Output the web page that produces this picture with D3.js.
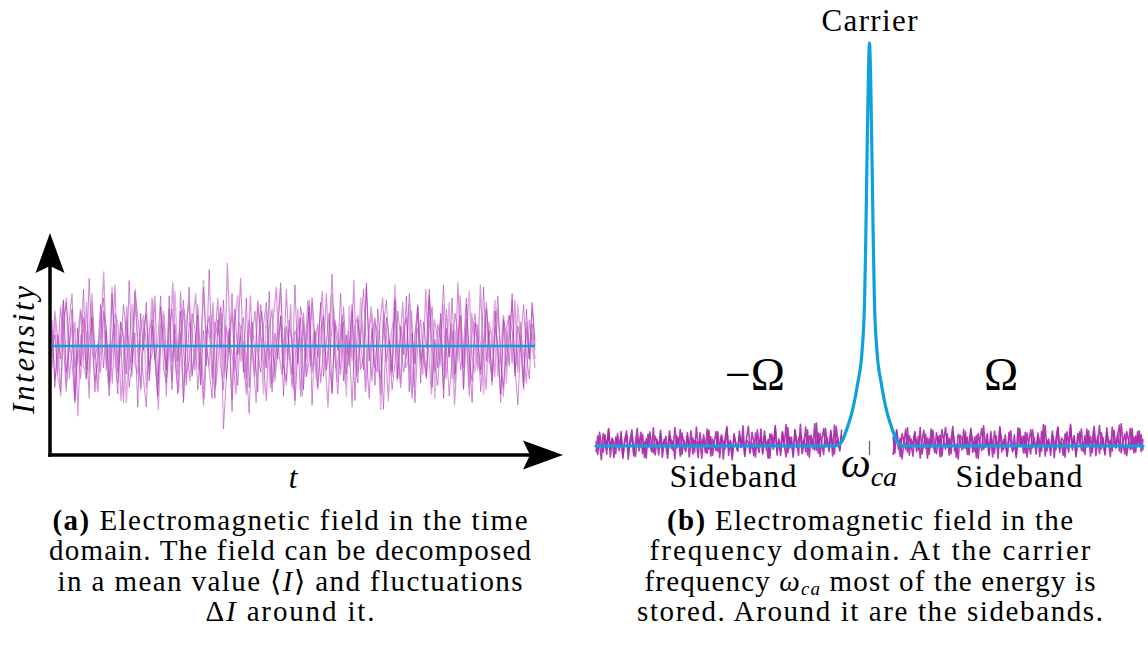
<!DOCTYPE html>
<html>
<head>
<meta charset="utf-8">
<script src="https://cdn.jsdelivr.net/npm/d3@7"></script>
<style>
  body { margin: 0; background: #fff; }
  svg { display: block; }
</style>
</head>
<body>
<svg id="fig" width="1148" height="646" font-family="'Liberation Serif', 'DejaVu Serif', 'Times New Roman', serif"></svg>
<script>
// ---- (a) time domain: intensity samples of overlaid noisy traces ----
const meanIntensity = 50;
const intensityA = [62,31,55,44,71,38,49,67,25,58,41,76,35,52,63,29,47,69,40,57,33,74,46,28,61,53,37,80,42,56,22,65,48,70,34,59,45,27,68,51,39,73,30,60,43,66,24,54,77,36,50,64,32,57,41,85,44,26,62,49,71,35,58,20,67,46,55,38,72,31,61,47,29,69,53,40,75,33,56,44,64,27,59,50,37,78,42,63,30,54,68,23,57,45,70,36,52,65,28,60,48,74,34,55,41,66,25,62,51,39,79,43,58,32,67,47,21,63,54,38,71,35,59,46,73,29,56,42,68,33,61,49,76,31,53,40,65,26,58,45,72,37,54,64,30,69,47,24,60,52,39,77,43,57,34,66,48,28,62,55,41,74,36,59,50,31,67,44,70,53];
const intensityB = [48,55,36,29,61,70,52,43,24,46,66,58,39,81,50,34,41,63,72,45,27,53,60,38,47,69,56,31,42,75,64,49,35,22,57,62,44,51,73,40,33,59,67,46,28,54,71,37,43,65,58,30,48,77,52,39,26,61,55,68,12,35,50,74,45,32,57,63,40,19,53,66,47,38,60,70,49,29,44,56,79,41,34,62,51,25,46,68,58,36,43,72,54,31,48,64,39,57,83,45,28,52,61,37,50,69,44,33,58,76,47,26,55,63,40,35,60,71,49,30,42,66,53,38,46,74,57,24,51,62,44,36,59,68,41,32,54,78,48,27,45,65,56,39,50,72,43,34,61,58,29,47,67,52,37,55,73,42,31,49,64,57,40,23,53,69,46,35,60,48];
const intensityC = [40,66,53,27,58,72,35,49,61,18,55,44,70,38,63,47,30,57,84,42,51,33,65,59,25,46,68,39,54,76,43,31,60,50,37,71,45,21,58,64,36,52,79,41,29,56,67,48,34,62,74,39,45,26,59,53,70,32,47,65,38,88,51,43,28,61,57,35,49,73,42,24,55,66,40,52,31,63,77,46,37,58,44,69,30,54,62,27,48,71,41,56,35,60,75,43,22,53,67,39,50,64,33,57,45,80,36,49,61,29,54,68,42,38,59,72,47,25,56,63,34,51,70,40,44,66,31,58,53,37,76,48,28,62,55,41,69,35,50,60,23,46,73,43,57,32,65,52,39,78,45,30,61,54,36,67,49,27,58,64,42,71,38,55,47,33,62,52,40];
const intensityD = [57,34,45,68,52,29,61,74,40,48,35,63,56,26,70,44,51,38,66,59,31,47,78,42,55,24,62,49,36,71,53,30,58,65,41,46,73,33,50,60,27,67,43,54,37,75,48,32,61,57,39,69,45,23,56,64,35,52,72,41,30,59,47,66,38,53,81,44,28,62,50,36,70,55,42,25,58,67,34,49,63,40,76,46,31,57,53,27,65,44,71,38,51,60,33,48,74,42,29,62,55,37,68,46,52,22,59,64,39,45,77,50,34,61,56,28,66,43,53,36,72,47,31,58,63,41,26,55,69,44,50,35,73,48,38,60,54,30,67,45,57,33,79,49,40,62,27,56,65,43,37,52,70,46,32,59,51,24,64,41,55,71,38,47,61,34,58,44,68,50];
const intensityE = [45,63,38,54,71,32,49,60,27,56,67,41,35,58,74,46,29,52,65,39,43,77,50,33,61,55,24,48,69,42,37,57,64,31,53,72,44,28,59,66,40,51,34,75,47,56,26,62,70,38,45,58,33,80,49,41,64,30,54,68,36,46,57,25,63,73,43,52,35,60,48,39,71,55,28,66,44,50,37,62,76,41,32,58,53,23,67,47,61,36,55,70,42,30,57,64,39,49,74,45,34,60,52,27,68,43,56,38,72,48,31,59,65,40,54,21,63,57,37,46,78,51,33,61,44,69,29,55,66,42,48,36,73,58,26,52,62,39,47,70,35,57,43,64,31,55,75,45,38,60,50,28,67,42,54,71,36,49,63,33,58,46,40,69,53,30,61,47,56,44];

// ---- (b) frequency domain: carrier line shape and sideband noise ----
const carrierFreq  = [-50, -6.6, -5.8, -5.1, -4.2, -3.1, -2.15, -1.35, -0.9, -0.7, -0.45, -0.2, 0, 0.2, 0.45, 0.7, 0.9, 1.35, 2.15, 3.1, 4.2, 5.1, 5.8, 6.6, 50];
const carrierPower = [0, 0, 0.15, 1.0, 4.0, 8.9, 15.6, 23.8, 36, 50, 72, 92, 100, 92, 72, 50, 36, 23.8, 15.6, 8.9, 4.0, 1.0, 0.15, 0, 0];
const lowerBandRange = [-50, -5.1];
const upperBandRange = [4.3, 50];
const lowerSideband = [1.2,-2.1,3.4,0.3,-1.5,2.8,-0.6,4.1,-2.7,1.9,0.8,-1.9,3.0,-0.2,2.2,-3.1,1.5,3.7,-0.9,0.4,2.6,-2.4,1.1,4.4,-1.2,0.7,2.9,-2.8,1.8,-0.4,3.5,0.2,-1.7,2.4,1.0,-2.2,3.9,-0.7,1.6,0.1,-3.0,2.7,1.3,-1.1,4.6,-0.5,2.0,-2.5,3.2,0.6,-1.4,2.5,-0.1,3.8,-2.0,1.4,0.9,-2.9,3.3,0.0,1.7,-1.6,4.2,-0.8,2.3,-2.3,1.0,3.6,-1.3,0.5,2.8,-3.2,1.9,4.8,-0.6,1.2,-2.6,3.1,0.4,-1.0,2.6,-0.3,5.0,-2.1,1.5,0.8,-1.8,3.4,1.1,-2.7,4.0,0.2,2.1,-1.5,3.7,-0.9,1.6,-3.0,2.9,0.7,4.5,-1.2,1.3,-2.4,3.3,0.1,5.3,-1.7,2.2,0.9,-2.8,4.1,-0.4,1.8,3.0,-1.9,0.6,4.7,-2.2,2.5,1.4,-0.7,5.5,-1.1,3.2,-2.6,1.7,4.3,-0.2,2.0,-1.4,3.9,0.3,-2.0,4.9,1.0,-0.8,2.7];
const lowerSideband2 = [-1.6,2.5,0.4,-3.4,3.1,1.0,-2.0,4.3,-0.5,1.8,-2.9,2.2,0.6,-1.2,3.6,-2.4,0.9,2.7,-3.3,1.4,4.0,-0.8,-2.6,2.1,0.2,3.4,-1.9,1.1,-3.0,2.9,0.5,-1.4,4.5,-2.2,1.6,-0.3,3.0,-2.8,0.8,2.4,-1.7,3.8,-0.6,1.3,-3.2,2.6,0.0,4.1,-2.1,1.5,-0.9,3.3,-2.7,0.7,2.0,-1.5,4.7,-0.2,1.2,-3.1,2.8,0.3,-1.8,3.9,-2.5,1.7,0.4,-1.1,3.5,-2.9,2.3,1.0,-0.7,4.4,-2.3,1.4,-3.4,2.5,0.6,-1.3,3.7,-0.4,2.1,-2.6,1.9,4.9,-1.0,0.8,-2.4,3.2,0.1,-1.6,4.2,-2.0,2.6,0.5,-3.0,3.0,1.3,-0.8,5.1,-2.2,1.8,-1.2,3.6,0.2,-2.7,4.6,-0.5,2.2,-1.9,3.9,0.9,-2.3,5.4,-0.1,1.6,-1.4,4.0,-2.8,2.7,0.7,-1.0,5.7,-1.8,3.1,0.4,-2.1,4.4,1.1,-0.6,3.4,-2.5,5.2,0.0,1.9,-1.3,4.1];
const upperSideband = [2.3,-1.8,4.0,0.5,-2.6,3.1,1.2,-0.9,4.5,-2.3,1.7,0.2,3.6,-1.4,2.4,-3.0,1.0,3.9,-0.6,2.0,-2.1,4.2,0.8,-1.6,3.3,0.0,2.7,-2.5,1.4,4.6,-0.3,1.9,-1.9,3.5,0.6,-2.8,2.9,1.5,-1.0,4.1,-0.5,2.2,-2.2,3.8,0.9,-1.3,2.6,-3.1,1.8,4.4,-0.8,0.3,3.0,-1.7,2.1,-2.7,3.7,1.1,-0.4,4.8,-1.5,1.6,0.4,-2.4,3.4,0.7,-1.1,2.8,-2.9,1.3,4.3,-0.1,2.5,-1.8,3.2,0.1,-2.0,4.0,1.0,-0.7,2.3,-2.6,3.6,0.5,5.1,-1.2,1.7,-2.3,2.9,0.8,-0.9,4.7,-1.6,2.0,1.4,-2.8,3.5,0.3,5.4,-1.0,1.9,-2.1,3.1,0.6,4.2,-1.4,2.6,-0.2,3.8,-2.5,1.2,4.9,-0.6,2.4,-1.9,3.3,0.9,-2.2,4.5,0.2,1.5,-1.3,3.9,-0.5,2.7,5.2,-1.7,1.1,3.0,-2.4,0.7,4.4,-0.8,2.2,-1.5,3.6,0.4,2.8,-1.1];
const upperSideband2 = [-2.2,1.5,3.7,-0.7,2.0,-3.2,0.9,4.2,-1.5,2.6,0.3,-2.5,3.3,1.1,-1.0,4.6,-2.0,0.6,2.9,-3.0,1.8,-0.4,3.9,0.0,-1.9,2.4,-2.7,4.1,1.3,-0.8,3.0,-2.3,1.6,4.8,-1.2,0.4,-3.3,2.7,1.9,-0.6,3.5,-2.1,0.8,4.4,-1.6,2.2,-2.9,3.1,0.5,-1.1,5.0,-0.3,1.4,-2.4,3.6,0.2,-1.8,2.5,-3.1,4.3,1.0,-0.9,2.8,-2.6,1.7,3.8,-1.4,0.6,-2.2,4.5,0.1,2.3,-1.7,3.4,-2.8,1.2,4.0,-0.5,1.9,-2.0,3.2,0.7,-1.3,5.3,-2.5,1.5,0.3,-1.0,3.7,-2.9,2.1,4.6,-0.7,1.0,-2.3,3.0,0.4,-1.5,4.9,-0.2,2.6,-2.7,1.6,3.5,-1.1,0.9,-2.1,4.2,0.0,2.4,-1.6,3.9,-2.4,1.3,5.1,-0.8,2.0,-1.9,3.3,0.5,-2.6,4.7,1.1,-0.4,2.9,-1.2,5.5,0.6,-2.0,3.6,1.4,-0.9,4.3,-1.7,2.5,0.2,3.8,-1.4,1.7];

const BLUE = "#0ea2dc";
const SERIF = "'Liberation Serif', 'DejaVu Serif', 'Times New Roman', serif";
const svg = d3.select("#fig");
svg.append("rect").attr("width", 1148).attr("height", 646).attr("fill", "#fff");

function label(x, y) {
  return svg.append("text").attr("x", x).attr("y", y)
    .attr("font-family", SERIF).attr("fill", "#000");
}

// ================= panel (a) =================
const tX = d3.scaleLinear().domain([0, 1]).range([52, 535]);
const iY = d3.scaleLinear().domain([0, 100]).range([455, 237]);

function traceLine(arr) {
  return d3.line()
    .x((d, i) => tX(i / (arr.length - 1)))
    .y(d => iY(d))(arr);
}
const traces = [
  { data: intensityE, color: "#dea6e0", width: 1.5, opacity: 0.9 },
  { data: intensityC, color: "#d588d8", width: 1.3, opacity: 0.85 },
  { data: intensityD, color: "#c66dcb", width: 1.1, opacity: 0.8 },
  { data: intensityB, color: "#b84fbd", width: 0.9, opacity: 0.75 },
  { data: intensityA, color: "#a52aab", width: 0.8, opacity: 0.7 }
];
const gA = svg.append("g");
traces.forEach(t => {
  gA.append("path").attr("d", traceLine(t.data))
    .attr("fill", "none").attr("stroke", t.color)
    .attr("stroke-width", t.width).attr("stroke-opacity", t.opacity)
    .attr("stroke-linejoin", "round");
});
gA.append("line")
  .attr("x1", tX(0)).attr("x2", tX(1))
  .attr("y1", iY(meanIntensity)).attr("y2", iY(meanIntensity))
  .attr("stroke", BLUE).attr("stroke-width", 2.6);

// axes with stealth arrow heads
const ox = tX(0) - 2, oy = iY(0);
function stealth(tipX, tipY, dirX, dirY) {
  const len = 40, half = 14.5, notch = 33;
  const px = -dirY, py = dirX;
  const bx = tipX - dirX * len, by = tipY - dirY * len;
  const nx = tipX - dirX * notch, ny = tipY - dirY * notch;
  return `M${tipX},${tipY}L${bx + px * half},${by + py * half}L${nx},${ny}L${bx - px * half},${by - py * half}Z`;
}
const axisG = svg.append("g");
axisG.append("line").attr("x1", ox).attr("x2", ox).attr("y1", oy + 1.75).attr("y2", 265)
  .attr("stroke", "#000").attr("stroke-width", 3.5);
axisG.append("line").attr("x1", ox - 1.75).attr("x2", 535).attr("y1", oy).attr("y2", oy)
  .attr("stroke", "#000").attr("stroke-width", 3.5);
axisG.append("path").attr("d", stealth(ox, 233, 0, -1)).attr("fill", "#000");
axisG.append("path").attr("d", stealth(563, oy, 1, 0)).attr("fill", "#000");

label(0, 0)
  .attr("transform", `translate(34,350) rotate(-90)`)
  .attr("text-anchor", "middle").attr("font-size", 31).attr("font-style", "italic")
  .attr("textLength", 128).attr("lengthAdjust", "spacing")
  .text("Intensity");
label(293, 488).attr("text-anchor", "middle")
  .attr("font-size", 31).attr("font-style", "italic").text("t");

// ================= panel (b) =================
const fX = d3.scaleLinear().domain([-50, 50]).range([596, 1143]);
const pY = d3.scaleLinear().domain([0, 100]).range([446, 43]);

function bandLine(arr, range) {
  const s = d3.scaleLinear().domain([0, arr.length - 1]).range(range);
  return d3.line().x((d, i) => fX(s(i))).y(d => pY(d))(arr);
}
const gB = svg.append("g");
[[lowerSideband2, lowerBandRange], [upperSideband2, upperBandRange],
 [lowerSideband, lowerBandRange], [upperSideband, upperBandRange]].forEach(([arr, r]) => {
  gB.append("path").attr("d", bandLine(arr, r))
    .attr("fill", "none").attr("stroke", "#a928aa").attr("stroke-width", 1.6)
    .attr("stroke-opacity", 0.9).attr("stroke-linejoin", "round");
});
const carrierLine = d3.line()
  .x((d, i) => fX(carrierFreq[i]))
  .y(d => pY(d))
  .curve(d3.curveMonotoneX);
gB.append("path").attr("d", carrierLine(carrierPower))
  .attr("fill", "none").attr("stroke", BLUE).attr("stroke-width", 3.2)
  .attr("stroke-linejoin", "round").attr("stroke-linecap", "round");

// carrier tick
gB.append("line").attr("x1", fX(0)).attr("x2", fX(0)).attr("y1", 441).attr("y2", 455)
  .attr("stroke", "#666").attr("stroke-width", 1.2);

label(fX(0), 31).attr("text-anchor", "middle")
  .attr("font-size", 31).attr("textLength", 96).attr("lengthAdjust", "spacing").text("Carrier");
label(755, 390).attr("text-anchor", "middle").attr("font-size", 46).text("\u2212\u03A9");
label(1001, 390).attr("text-anchor", "middle").attr("font-size", 46).text("\u03A9");
label(733, 487).attr("text-anchor", "middle")
  .attr("font-size", 32).attr("textLength", 127).attr("lengthAdjust", "spacing").text("Sideband");
label(1019, 487).attr("text-anchor", "middle")
  .attr("font-size", 32).attr("textLength", 127).attr("lengthAdjust", "spacing").text("Sideband");
const wca = label(841, 477).attr("font-style", "italic");
wca.append("tspan").attr("font-size", 42).text("\u03C9");
wca.append("tspan").attr("font-size", 28).attr("dy", 9).text("ca");

// ================= captions =================
function caption(cx, y0, lines) {
  lines.forEach((parts, k) => {
    const t = label(cx, y0 + k * 30.4)
      .attr("text-anchor", "middle").attr("font-size", 29)
      .attr("textLength", parts.width).attr("lengthAdjust", "spacing");
    parts.spans.forEach(s => {
      const ts = t.append("tspan").text(s.t);
      if (s.b) ts.attr("font-weight", "bold");
      if (s.i) ts.attr("font-style", "italic");
      if (s.sub) ts.attr("font-size", 19).attr("dy", 4);
      if (s.up) ts.attr("dy", -4);
    });
  });
}
caption(290, 530, [
  { width: 475, spans: [{ t: "(a)", b: true }, { t: " Electromagnetic field in the time" }] },
  { width: 482, spans: [{ t: "domain. The field can be decomposed" }] },
  { width: 465, spans: [{ t: "in a mean value \u27E8" }, { t: "I", i: true }, { t: "\u27E9 and fluctuations" }] },
  { width: 169, spans: [{ t: "\u0394" }, { t: "I", i: true }, { t: " around it." }] }
]);
caption(870, 530, [
  { width: 406, spans: [{ t: "(b)", b: true }, { t: " Electromagnetic field in the" }] },
  { width: 441, spans: [{ t: "frequency domain. At the carrier" }] },
  { width: 451, spans: [{ t: "frequency " }, { t: "\u03C9", i: true }, { t: "ca", i: true, sub: true }, { t: " most of the energy is", up: true }] },
  { width: 466, spans: [{ t: "stored. Around it are the sidebands." }] }
]);
</script>
</body>
</html>
